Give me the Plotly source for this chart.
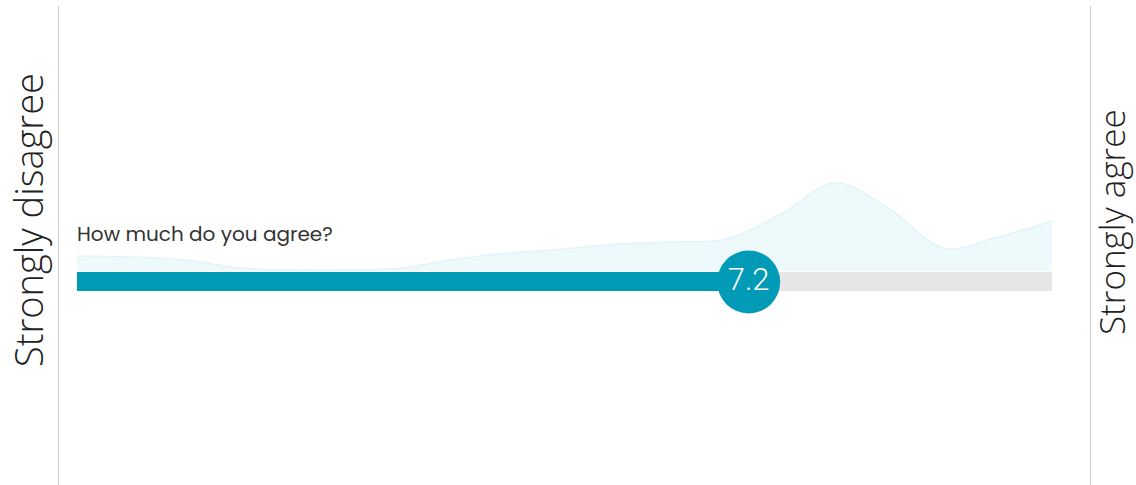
import plotly.graph_objects as go

# Data
scale_min, scale_max = 1, 10
answer_value = 7.2
density_x = [1.0, 1.5, 2.0, 2.5, 3.0, 3.5, 4.0, 4.5, 5.0, 5.5, 6.0, 6.5, 7.0, 7.5, 8.0, 8.5, 9.0, 9.5, 10.0]
density_y = [15, 14, 11, 3, 1, 1, 3, 12, 18, 22, 27, 29, 32, 57, 88, 62, 23, 34, 50]
question = "How much do you agree?"
left_label = "Strongly disagree"
right_label = "Strongly agree"

W, H = 1136, 485
x0_px, x1_px = 77, 1052
base_px = 271

TEAL = "#019bb8"

fig = go.Figure()

fig.add_trace(go.Scatter(
    x=density_x, y=density_y, mode="lines", line=dict(shape="spline", smoothing=1.0, color="#e2f4f8", width=1.5),
    fill="tozeroy", fillcolor="#eef9fb", hoverinfo="skip", showlegend=False,
))

# Track
fig.add_shape(type="rect", x0=scale_min, x1=scale_max, y0=-1, y1=-20, line_width=0, fillcolor="#e6e6e6", layer="below")
fig.add_shape(type="rect", x0=scale_min, x1=answer_value, y0=-1, y1=-20, line_width=0, fillcolor=TEAL, layer="below")

fig.add_trace(go.Scatter(
    x=[answer_value], y=[-11], mode="markers+text",
    marker=dict(size=63, color=TEAL, line=dict(width=0)),
    text=[f"{answer_value}"], textposition="middle center",
    textfont=dict(family="Roboto", size=31, color="white", weight=300),
    hoverinfo="skip", showlegend=False,
))

fig.add_annotation(x=x0_px / W, xref="paper", y=base_px - 234, yref="y", text=question, showarrow=False,
                   xanchor="left", yanchor="middle", xshift=-2,
                   font=dict(family="Poppins, Lato, Open Sans", size=20, color="#333333"))

fig.add_annotation(x=28 / W, xref="paper", y=base_px - 220, yref="y", text=left_label, showarrow=False, textangle=-90,
                   xanchor="center", yanchor="middle", font=dict(family="Open Sans", size=38, color="#222222", weight=300))
fig.add_annotation(x=1111 / W, xref="paper", y=base_px - 222, yref="y", text=right_label, showarrow=False, textangle=-90,
                   xanchor="center", yanchor="middle", borderpad=0,
                   font=dict(family="Open Sans", size=35, color="#222222", weight=300))

for xp in (58.5, 1090.5):
    fig.add_shape(type="line", xref="paper", yref="paper", x0=xp / W, x1=xp / W, y0=0, y1=1 - 6 / H,
                  line=dict(color="#cccccc", width=1))

fig.update_layout(
    width=W, height=H, margin=dict(l=0, r=0, t=0, b=0),
    paper_bgcolor="white", plot_bgcolor="white",
    xaxis=dict(range=[scale_min, scale_max], domain=[x0_px / W, x1_px / W], visible=False, fixedrange=True),
    yaxis=dict(range=[base_px - H, base_px], visible=False, fixedrange=True),
)

fig.write_html("out.html", config={"displayModeBar": False},
               post_script="document.body.style.margin='0';document.body.style.overflow='hidden';")
